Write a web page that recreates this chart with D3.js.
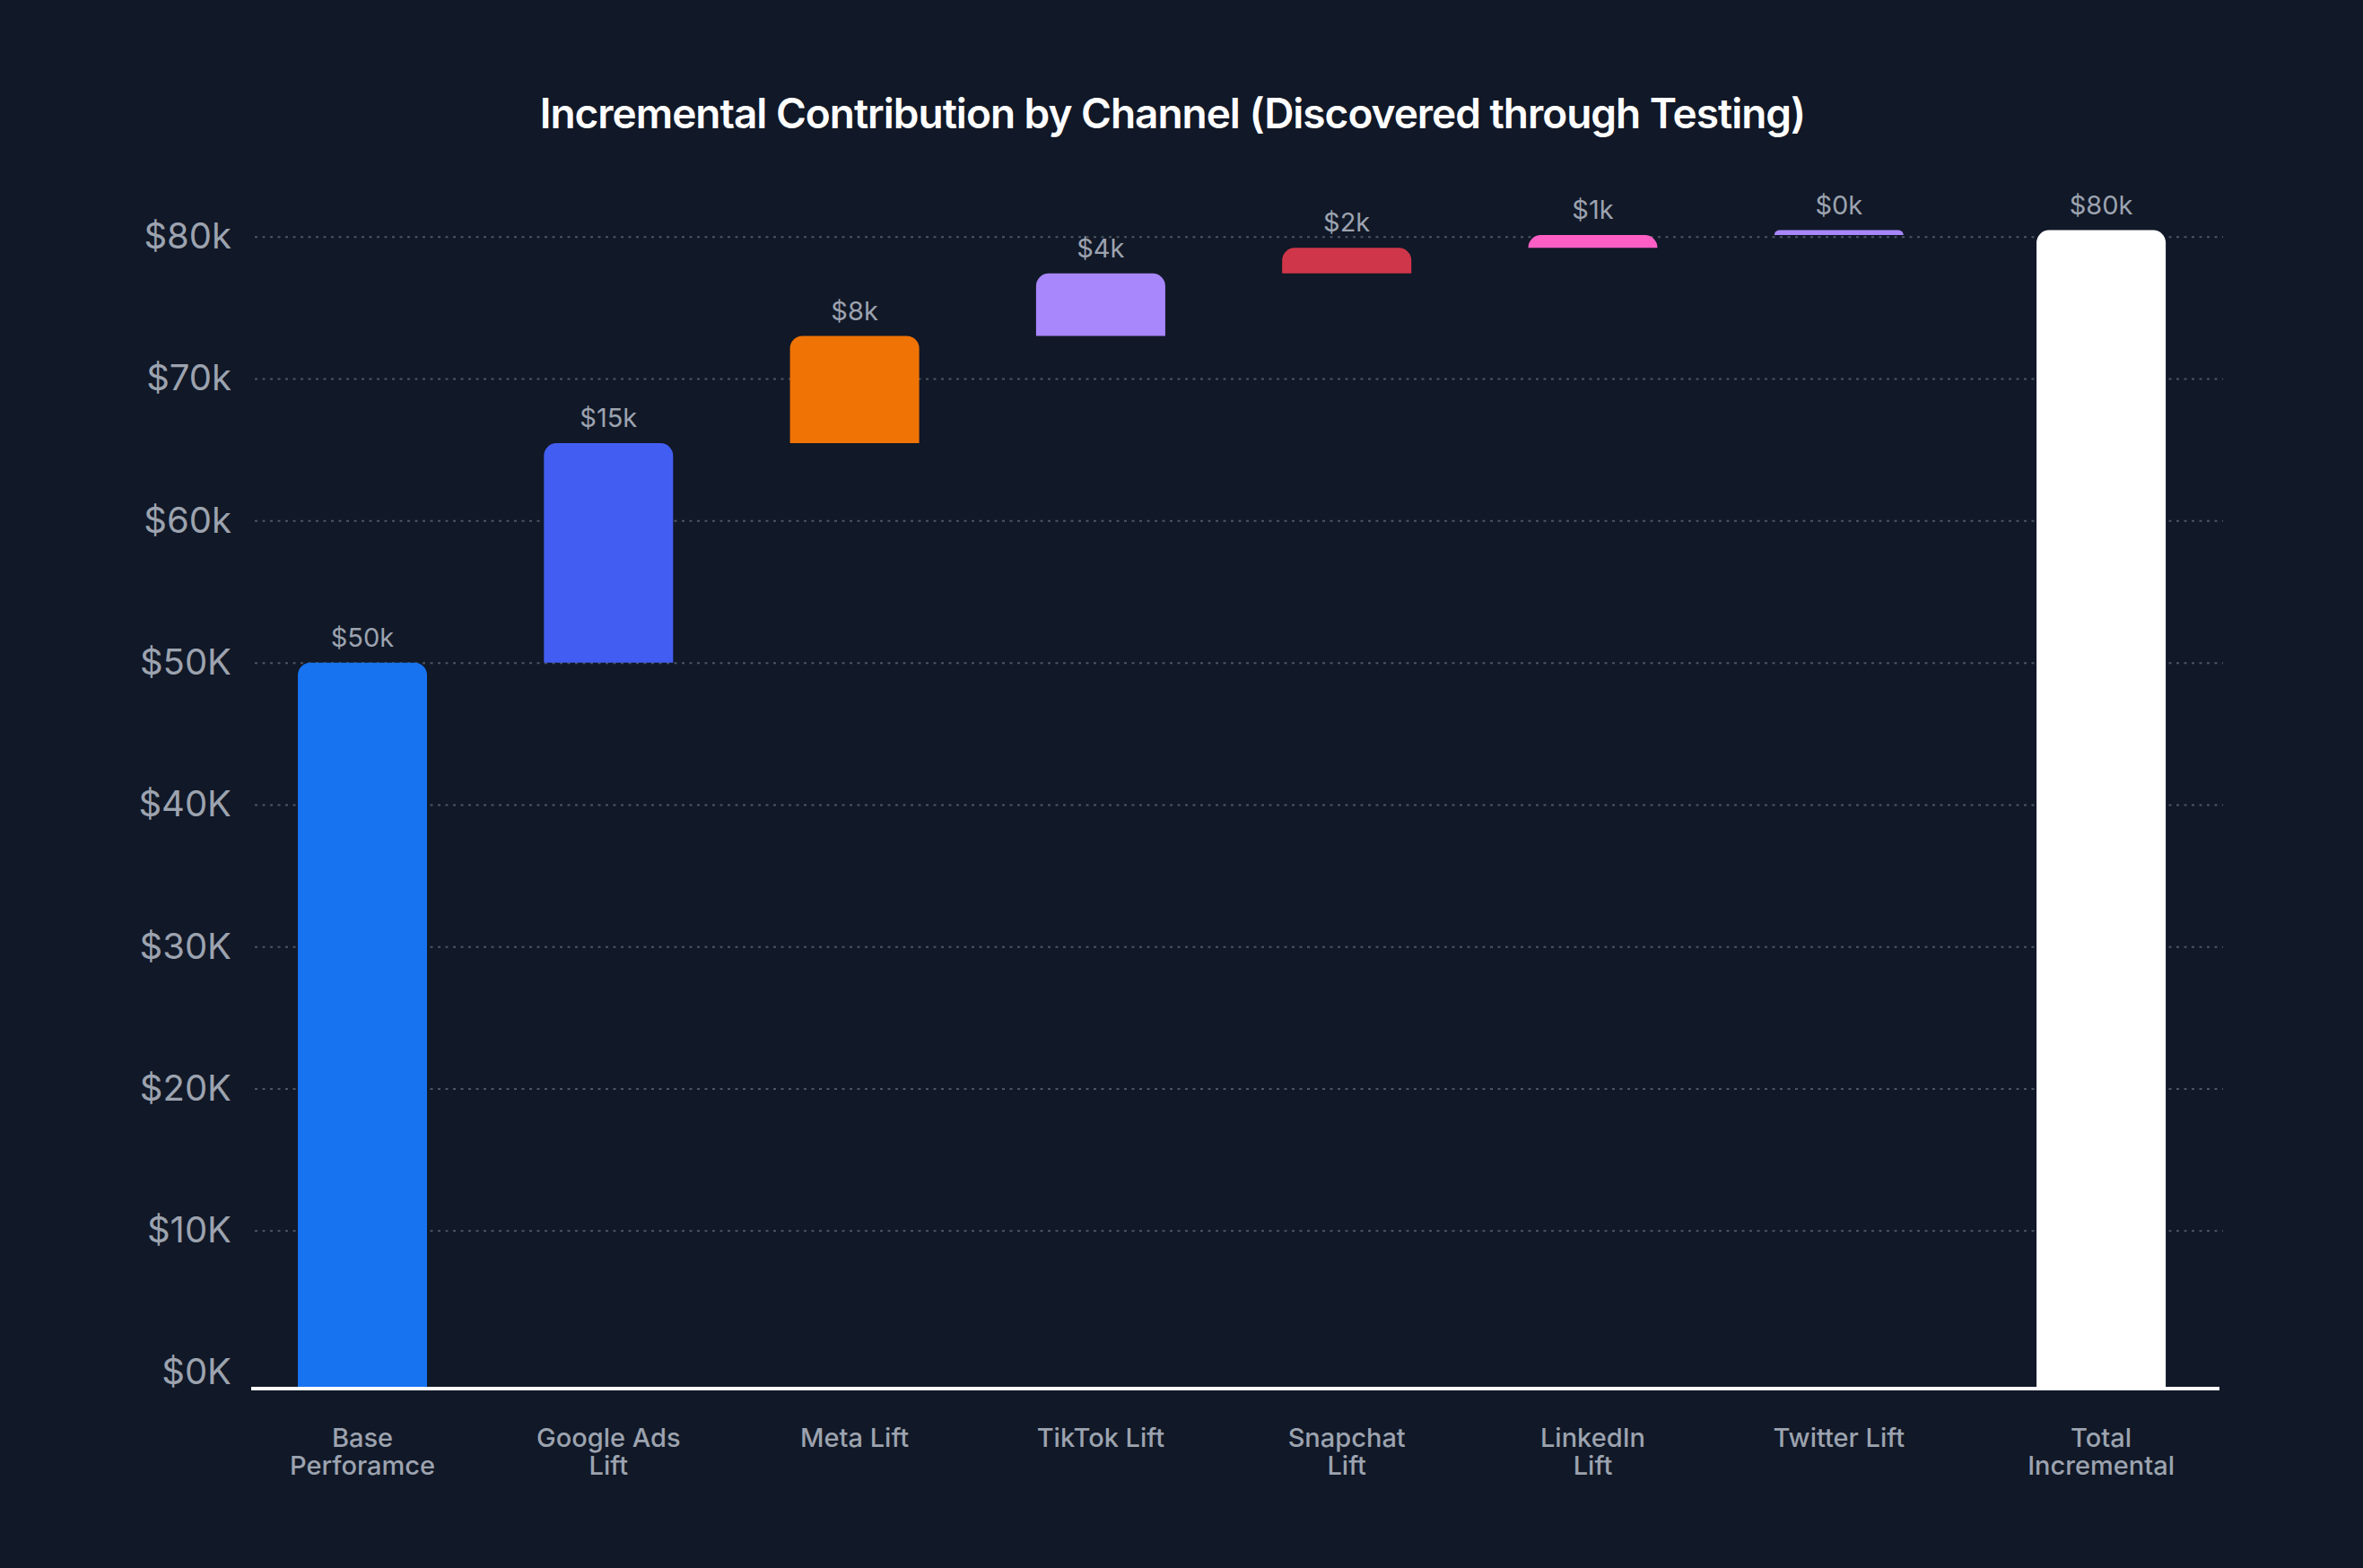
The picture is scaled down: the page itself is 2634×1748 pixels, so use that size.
<!DOCTYPE html>
<html>
<head>
<meta charset="utf-8">
<script src="https://cdn.jsdelivr.net/npm/d3@7/dist/d3.min.js"></script>
<style>
  html, body { margin: 0; padding: 0; background: #111827; }
  svg { display: block; }
</style>
</head>
<body>
<svg id="chart" width="2634" height="1748"></svg>
<script>
// ---- data (values in $ thousands) ----
const categories = ["Base\nPerforamce", "Google Ads\nLift", "Meta Lift", "TikTok Lift",
                    "Snapchat\nLift", "LinkedIn\nLift", "Twitter Lift", "Total\nIncremental"];
const contributions = [50, 15.45, 7.55, 4.4, 1.8, 0.9, 0.35];
const totalValue = [80.45];
const barColors = ["#1773F0", "#425EF2", "#F07305", "#A886FC", "#D0364A", "#FF5FC5", "#A886FC", "#FFFFFF"];
const tickValues = [0, 10, 20, 30, 40, 50, 60, 70, 80];
const tickLabels = ["$0K", "$10K", "$20K", "$30K", "$40K", "$50K", "$60k", "$70k", "$80k"];
const title = "Incremental Contribution by Channel (Discovered through Testing)";

// ---- layout ----
const W = 2634, H = 1748;
const svg = d3.select("#chart");
svg.append("rect").attr("width", W).attr("height", H).attr("fill", "#111827");

const FONT = "Inter, 'Noto Sans', sans-serif";
const gridX0 = 284, gridX1 = 2478;

const y = d3.scaleLinear().domain([-1, 80]).range([1546, 263.7]);
const x = d3.scaleBand().domain(categories.slice(0, 7)).range([332, 2121.8])
  .paddingInner(0.475).paddingOuter(0);
const totalGap = 18;
const xPos = c => categories.indexOf(c) < 7 ? x(c) : x(categories[6]) + x.step() + totalGap;

// ---- waterfall segments ----
const ends = Array.from(d3.cumsum(contributions));
const bars = contributions.map((v, i) => ({
  cat: categories[i], start: i === 0 ? null : ends[i - 1], end: ends[i], value: v, color: barColors[i]
}));
bars.push({ cat: categories[7], start: null, end: totalValue[0], value: totalValue[0], color: barColors[7] });

// ---- gridlines ----
const grid = svg.append("g").attr("transform", `translate(${gridX0},0)`)
  .call(d3.axisLeft(y).tickValues(tickValues.filter(v => v > 0)).tickSize(-(gridX1 - gridX0)).tickFormat(""));
grid.select(".domain").remove();
grid.selectAll(".tick line").attr("stroke", "#4B5563").attr("stroke-width", 2)
  .attr("stroke-dasharray", "3,5.5");

// ---- y tick labels ----
const yAxis = svg.append("g").attr("transform", `translate(258,0)`)
  .call(d3.axisLeft(y).tickValues(tickValues).tickSize(0).tickPadding(0)
    .tickFormat((d, i) => tickLabels[i]));
yAxis.select(".domain").remove();
yAxis.selectAll(".tick text").attr("fill", "#9CA3AF").attr("font-family", FONT)
  .attr("font-size", 40).attr("dy", "0.32em").attr("x", 0);

// ---- bars ----
function topRounded(x0, yTop, w, h, r) {
  r = Math.max(0, Math.min(r, h, w / 2));
  return `M${x0},${yTop + h}V${yTop + r}A${r},${r} 0 0 1 ${x0 + r},${yTop}` +
         `H${x0 + w - r}A${r},${r} 0 0 1 ${x0 + w},${yTop + r}V${yTop + h}Z`;
}
const bw = x.bandwidth();
svg.append("g").selectAll("path").data(bars).join("path")
  .attr("d", d => {
    const yTop = y(d.end);
    const yBot = d.start === null ? y.range()[0] : y(d.start);
    return topRounded(xPos(d.cat), yTop, bw, yBot - yTop, 14);
  })
  .attr("fill", d => d.color);

// ---- value labels ----
svg.append("g").selectAll("text").data(bars).join("text")
  .attr("x", d => xPos(d.cat) + bw / 2)
  .attr("y", d => y(d.end) - 18)
  .attr("text-anchor", "middle")
  .attr("fill", "#9CA3AF").attr("font-family", FONT).attr("font-size", 29)
  .text(d => "$" + Math.round(d.value) + "k");

// ---- x axis line ----
svg.append("line").attr("x1", 280).attr("x2", 2474)
  .attr("y1", y.range()[0] + 2).attr("y2", y.range()[0] + 2)
  .attr("stroke", "#FFFFFF").attr("stroke-width", 4);

// ---- x labels ----
const xl = svg.append("g").selectAll("text").data(categories).join("text")
  .attr("text-anchor", "middle").attr("fill", "#9CA3AF")
  .attr("font-family", FONT).attr("font-size", 29).attr("font-weight", 500);
xl.each(function (c) {
  const t = d3.select(this);
  c.split("\n").forEach((line, i) => {
    t.append("tspan").attr("x", xPos(c) + bw / 2).attr("y", 1613 + i * 31).text(line);
  });
});

// ---- title ----
const tt = svg.append("text").attr("x", 1307).attr("y", 143).attr("text-anchor", "middle")
  .attr("fill", "#FFFFFF").attr("font-family", FONT).attr("font-size", 46)
  .attr("font-weight", 600).text(title);
const targetW = 1411;
const curW = tt.node().getComputedTextLength();
tt.attr("letter-spacing", ((targetW - curW) / (title.length - 1)).toFixed(2));
</script>
</body>
</html>
